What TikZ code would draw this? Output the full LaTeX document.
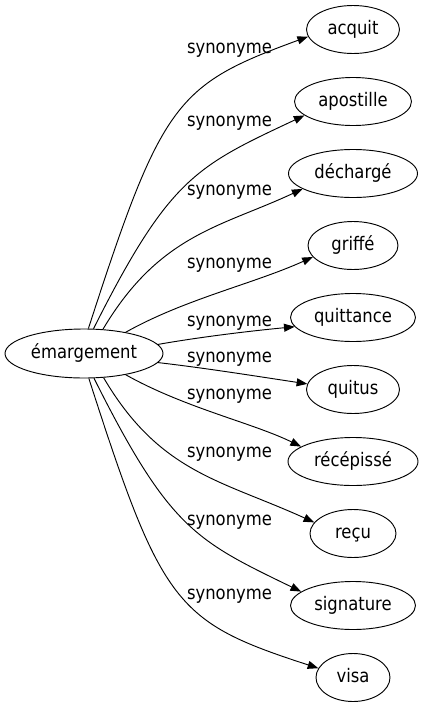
\documentclass[tikz,border=0pt]{standalone}
\usepackage{fontspec}
\setmainfont{DejaVu Sans}[FakeStretch=0.88]
\usetikzlibrary{shapes.geometric,arrows.meta}
\begin{document}
\begin{tikzpicture}[x=0.75pt,y=-0.75pt,
  txt/.style={font=\fontsize{14}{16}\selectfont, text=black, text height=10pt, text depth=2.34pt},
  word/.style={txt, ellipse, draw, line width=0.7pt, inner sep=0pt, minimum height=36pt},
  rel/.style={txt, inner sep=0pt},
  link/.style={draw, line width=0.7pt, -{Triangle[length=8pt,width=6pt]}}
]
\useasboundingbox (0,0) rectangle (423,707);
\node[word, minimum width=118.5pt, minimum height=36.75pt] (src) at (84,353.5) {émargement};
\node[word, minimum width=69.75pt] (t1) at (353,29.5) {acquit};
\node[word, minimum width=87.75pt] (t2) at (353,101.5) {apostille};
\node[word, minimum width=96.75pt] (t3) at (353,173.5) {déchargé};
\node[word, minimum width=67.5pt] (t4) at (353,245.5) {griffé};
\node[word, minimum width=93.75pt] (t5) at (353,317.5) {quittance};
\node[word, minimum width=69.75pt] (t6) at (353,389.5) {quitus};
\node[word, minimum width=97.5pt] (t7) at (353,461.5) {récépissé};
\node[word, minimum width=64.5pt] (t8) at (353,533.5) {reçu};
\node[word, minimum width=93.75pt] (t9) at (353,605.5) {signature};
\node[word, minimum width=55.5pt] (t10) at (353,677.5) {visa};

\draw[link] (src.80.7) .. controls (162,101) and (176,85) .. (t1.189.5);
\draw[link] (src.69.8) .. controls (169.5,177.7) and (196,166.4) .. (t2.196.5);
\draw[link] (src.52.2) .. controls (159.7,234) and (221,227) .. (t3.197.2);
\draw[link] (src.27.7) .. controls (185,299) and (253,284) .. (t4.196);
\draw[link] (src.7.9) .. controls (200,337) and (250,331) .. (t5.189);
\draw[link] (src.-7.3) .. controls (205,368) and (255,376) .. (t6.173.2);
\draw[link] (src.-27.7) .. controls (185,408) and (253,423) .. (t7.164);
\draw[link] (src.-51.3) .. controls (159.7,473) and (221,480) .. (t8.164);
\draw[link] (src.-68.2) .. controls (169.5,529) and (196,540.6) .. (t9.165);
\draw[link] (src.-79.9) .. controls (162,606) and (176,622) .. (t10.165);

\node[rel] (l1) at (229.5,48) {synonyme};
\node[rel] (l2) at (229.5,121) {synonyme};
\node[rel] (l3) at (229.5,190) {synonyme};
\node[rel] (l4) at (229.5,263) {synonyme};
\node[rel] (l5) at (229.5,321) {synonyme};
\node[rel] (l6) at (229.5,357) {synonyme};
\node[rel] (l7) at (229.5,394) {synonyme};
\node[rel] (l8) at (229.5,452) {synonyme};
\node[rel] (l9) at (229.5,520) {synonyme};
\node[rel] (l10) at (229.5,594) {synonyme};
\end{tikzpicture}
\end{document}
